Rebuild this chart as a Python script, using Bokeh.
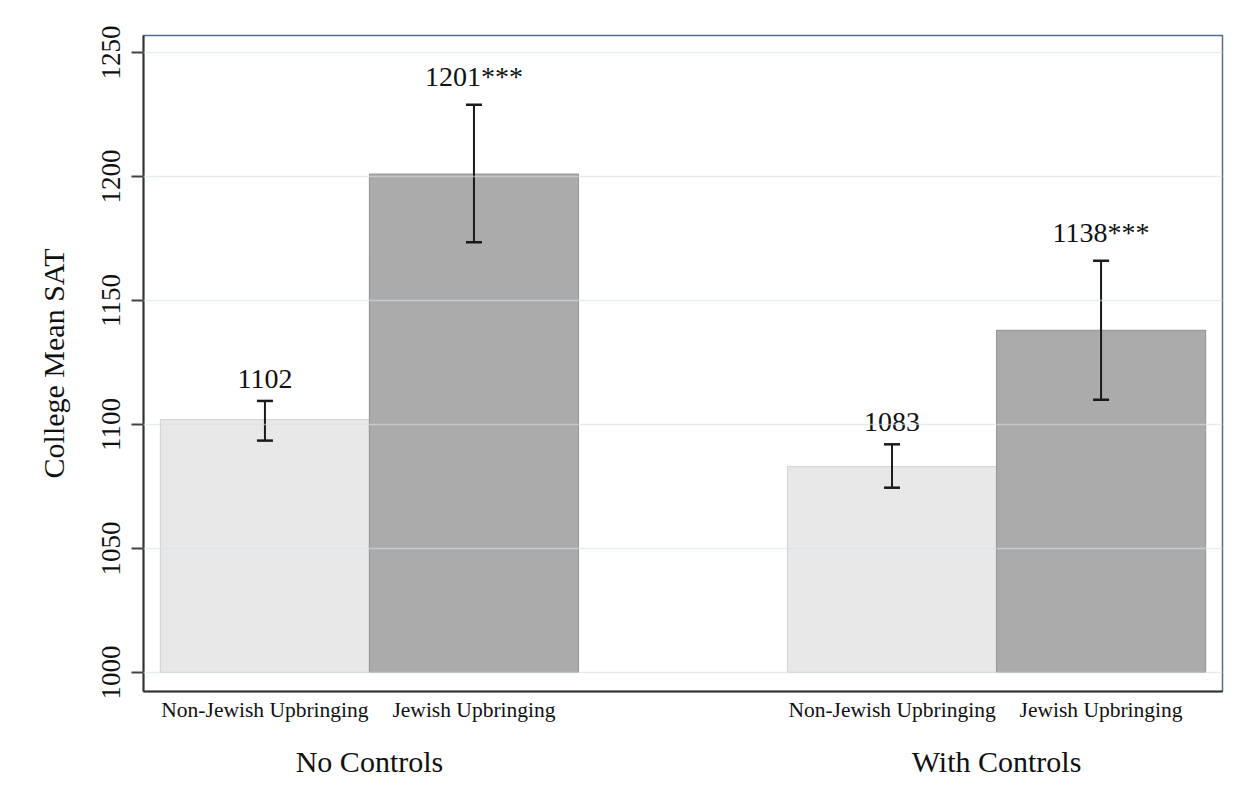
from bokeh.plotting import figure
from bokeh.models import (ColumnDataSource, Range1d, FixedTicker, LinearAxis,
                          Whisker, TeeHead)
from bokeh.core.properties import value
from bokeh.embed import file_html
from bokeh.resources import INLINE

# ---- data ----
groups = ["No Controls", "With Controls"]
conditions = ["Non-Jewish Upbringing", "Jewish Upbringing"]
means = [1102, 1201, 1083, 1138]
ci_lower = [1093.5, 1173.5, 1074.5, 1110.0]
ci_upper = [1109.5, 1229.0, 1092.0, 1166.0]
bar_labels = ["1102", "1201***", "1083", "1138***"]
y_ticks = [1000, 1050, 1100, 1150, 1200, 1250]

FONT = "Liberation Serif"
TXT = "#111111"

# positions: each group holds 2 bars, groups separated by one empty slot
xs, cats, fills, lines = [], [], [], []
for gi, g in enumerate(groups):
    for ci, c in enumerate(conditions):
        xs.append(gi * (len(conditions) + 1) + ci)
        cats.append(c)
        fills.append("#e8e8e8" if ci == 0 else "#ababab")
        lines.append("#d6d6d6" if ci == 0 else "#9a9a9a")

src = ColumnDataSource(dict(x=xs, top=means, lower=ci_lower, upper=ci_upper,
                            label=bar_labels, fill=fills, line=lines))

p = figure(width=1243, height=800, output_backend="svg", toolbar_location=None,
           x_range=Range1d(-0.581, 4.581), y_range=Range1d(992.3, 1256.9),
           min_border_left=143, min_border_right=21, min_border_top=35,
           min_border_bottom=109)
p.background_fill_color = "white"
p.border_fill_color = "white"
p.outline_line_color = "#4f6e8d"
p.outline_line_width = 1.5

p.vbar(x="x", top="top", bottom=1000, width=1.0, source=src,
       fill_color="fill", line_color="line", line_width=1.2)

w = Whisker(source=src, base="x", upper="upper", lower="lower",
            line_color="#1a1a1a", line_width=2,
            upper_head=TeeHead(size=16, line_color="#1a1a1a", line_width=2.5),
            lower_head=TeeHead(size=16, line_color="#1a1a1a", line_width=2.5))
w.level = "annotation"
p.add_layout(w)

p.text(x="x", y="upper", text="label", source=src, text_align="center",
       text_baseline="bottom", y_offset=-13, text_font=value(FONT),
       text_font_size="28px", text_color=TXT)

# grid
p.xgrid.visible = False
p.ygrid.ticker = FixedTicker(ticks=y_ticks)
p.ygrid.grid_line_color = "#d5e0e6"
p.ygrid.grid_line_alpha = 0.6
p.ygrid.grid_line_width = 1.5
p.ygrid.level = "overlay"

# y axis
ya = p.yaxis[0]
ya.ticker = FixedTicker(ticks=y_ticks)
ya.major_label_orientation = "vertical"
ya.major_label_text_font = FONT
ya.major_label_text_font_size = "27px"
ya.major_label_text_color = TXT
ya.major_tick_out = 12
ya.major_tick_in = 0
ya.major_tick_line_color = "#444444"
ya.major_tick_line_width = 2
ya.minor_tick_line_color = None
ya.axis_line_color = "#333333"
ya.axis_line_width = 2
ya.major_label_standoff = 11
ya.axis_label = "College Mean SAT"
ya.axis_label_text_font = FONT
ya.axis_label_text_font_size = "30px"
ya.axis_label_text_font_style = "normal"
ya.axis_label_text_color = TXT
ya.axis_label_standoff = 30

# x axis: conditions
xa = p.xaxis[0]
xa.ticker = FixedTicker(ticks=xs)
xa.major_label_overrides = {x: c for x, c in zip(xs, cats)}
xa.major_label_text_font = FONT
xa.major_label_text_font_size = "21.5px"
xa.major_label_text_color = TXT
xa.major_tick_line_color = None
xa.minor_tick_line_color = None
xa.axis_line_color = "#333333"
xa.axis_line_width = 2
xa.major_label_standoff = 0

# x axis: groups
centers = [gi * (len(conditions) + 1) + (len(conditions) - 1) / 2 for gi in range(len(groups))]
ga = LinearAxis(ticker=FixedTicker(ticks=centers),
                major_label_overrides={c: g for c, g in zip(centers, groups)})
ga.major_label_text_font = FONT
ga.major_label_text_font_size = "30px"
ga.major_label_text_color = TXT
ga.major_tick_line_color = None
ga.minor_tick_line_color = None
ga.axis_line_color = None
ga.major_label_standoff = 14
p.add_layout(ga, "below")

open("out.html", "w").write(file_html(p, INLINE))
